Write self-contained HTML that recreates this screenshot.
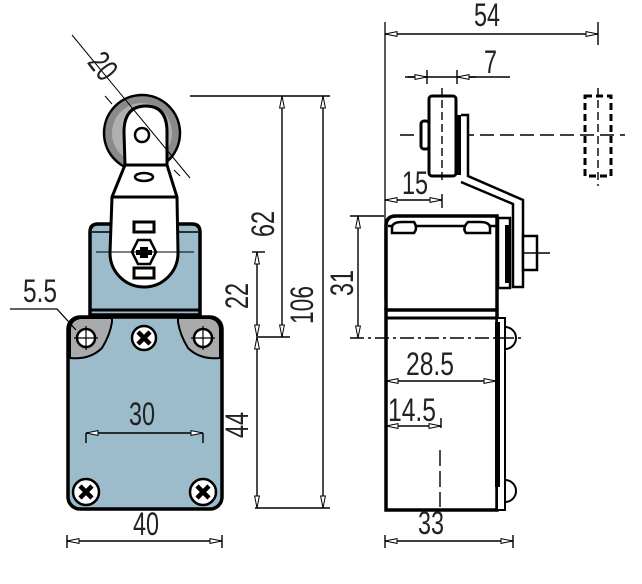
<!DOCTYPE html>
<html><head><meta charset="utf-8"><style>
html,body{margin:0;padding:0;background:#fff;}
svg{display:block;}
text{font-family:"Liberation Sans Narrow","Liberation Sans",sans-serif;font-size:32px;fill:#222;}
</style></head><body>
<svg width="642" height="584" viewBox="0 0 642 584" xmlns="http://www.w3.org/2000/svg">
<defs>
<marker id="a" viewBox="0 0 13 6" refX="13" refY="3" markerWidth="13" markerHeight="6" orient="auto-start-reverse" markerUnits="userSpaceOnUse">
<path d="M13,3 L1,0.6 L1,5.4 Z" fill="#fff" stroke="#000" stroke-width="1"/>
</marker>
</defs>
<g stroke="#000" fill="none" stroke-width="1.4">
<path d="M90,315 L90,232 Q90,224 98,224 L192,224 Q200,224 200,232 L200,315 Z" fill="#9dbccb" stroke-width="3.5"/>
<path d="M92,232 L198,232" stroke-width="1.5"/>
<line x1="91" y1="310" x2="199" y2="310" stroke-width="3"/>
<rect x="68" y="317" width="154" height="192" rx="12" fill="#9dbccb" stroke-width="3.5"/>
<path d="M70,358 Q90,360 102,348 Q110,335 112,322 L112,318 L80,318 Q70,320 70,330 Z" fill="#a8aaac" stroke-width="2"/>
<path d="M220,358 Q200,360 188,348 Q180,335 178,322 L178,318 L210,318 Q220,320 220,330 Z" fill="#a8aaac" stroke-width="2"/>
<circle cx="86" cy="338" r="9" fill="#fff" stroke-width="2.5"/>
<path d="M74,338 H98 M86,326 V350" stroke-width="1.2"/>
<circle cx="203" cy="338" r="9" fill="#fff" stroke-width="2.5"/>
<path d="M191,338 H215 M203,326 V350" stroke-width="1.2"/>
<circle cx="144" cy="338" r="12" fill="#fff" stroke-width="2.5"/>
<path d="M138,332 L150,344 M150,332 L138,344" stroke-width="4.5"/>
<circle cx="86" cy="492" r="13" fill="#fff" stroke-width="2.5"/>
<path d="M80,486 L92,498 M92,486 L80,498" stroke-width="4.5"/>
<circle cx="203" cy="492" r="13" fill="#fff" stroke-width="2.5"/>
<path d="M197,486 L209,498 M209,486 L197,498" stroke-width="4.5"/>
<circle cx="142" cy="133" r="38" fill="#8a8a8a" stroke-width="2.5"/>
<circle cx="142" cy="133" r="30" fill="#b0b0b0" stroke="none"/>
<path d="M125,165 L124,132 Q124,106 146,106 Q167,106 167,132 L167,165 L177,197 L178,253 A34,34 0 0 1 110,253 L112,197 Z" fill="#fff" stroke-width="3"/>
<line x1="125" y1="165" x2="167" y2="165" stroke-width="3"/>
<line x1="112" y1="197" x2="177" y2="197" stroke-width="3"/>
<ellipse cx="144" cy="177" rx="9" ry="4" stroke-width="2.5"/>
<circle cx="142" cy="135" r="7" fill="#fff" stroke-width="2.5"/>
<rect x="134" y="222" width="20" height="10" stroke-width="3"/>
<rect x="134" y="268" width="20" height="10" stroke-width="3"/>
<path d="M132,252 L138,240 L150,240 L156,252 L150,264 L138,264 Z" stroke-width="2.5"/>
<path d="M140,247 H148 V250 H152 V255 H148 V258 H140 V255 H136 V250 H140 Z" fill="#000" stroke="none"/>
<path d="M96,252 H194" stroke-width="1"/>
<line x1="72" y1="35" x2="190" y2="178" stroke-width="1"/>
<path d="M105,96 L112,104 M174,170 L180,176" stroke-width="1"/>
<path d="M10,309 L57,309 L76,330" stroke-width="1.3"/>
<line x1="86" y1="433" x2="203" y2="433" marker-start="url(#a)" marker-end="url(#a)"/>
<path d="M86,433 V443 M203,433 V443"/>
<line x1="67" y1="541" x2="222" y2="541" marker-start="url(#a)" marker-end="url(#a)"/>
<path d="M67,535 V548 M222,535 V548"/>
<line x1="190" y1="96" x2="330" y2="96"/>
<line x1="255" y1="508" x2="330" y2="508"/>
<line x1="258" y1="337" x2="290" y2="337"/>
<line x1="252" y1="252" x2="265" y2="252"/>
<line x1="282" y1="96" x2="282" y2="337" marker-start="url(#a)" marker-end="url(#a)"/>
<line x1="257" y1="252" x2="257" y2="337" marker-start="url(#a)" marker-end="url(#a)"/>
<line x1="257" y1="337" x2="257" y2="508" marker-start="url(#a)" marker-end="url(#a)"/>
<line x1="323" y1="96" x2="323" y2="508" marker-start="url(#a)" marker-end="url(#a)"/>

<line x1="385" y1="22" x2="385" y2="300" stroke-width="1.3"/>
<line x1="598" y1="22" x2="598" y2="45"/>
<line x1="385" y1="34" x2="598" y2="34" marker-start="url(#a)" marker-end="url(#a)"/>
<line x1="405" y1="77" x2="510" y2="77"/>
<path d="M427,70 V84 M457,70 V84"/>
<path d="M408,77 L427,77" marker-end="url(#a)"/>
<path d="M476,77 L457,77" marker-end="url(#a)"/>
<path d="M400,135 H625" stroke-dasharray="14,6"/>
<rect x="421" y="121" width="8" height="28" rx="3" fill="#fff" stroke-width="3"/>
<rect x="429" y="96" width="27" height="80" rx="3" fill="#fff" stroke-width="3"/>
<path d="M442,88 V184" stroke-dasharray="8,4"/>
<rect x="456" y="115" width="5" height="60" fill="#000" stroke="none"/>
<path d="M461,115 L468,115 L468,176 L523,200 L523,287 L513,287 L513,204 L461,182" fill="#fff" stroke-width="2.5"/>
<rect x="585" y="96" width="26" height="80" stroke-width="3" stroke-dasharray="7,4"/>
<path d="M598,88 V186" stroke-dasharray="8,4"/>
<line x1="442" y1="194" x2="442" y2="208"/>
<line x1="385" y1="200" x2="442" y2="200" marker-start="url(#a)" marker-end="url(#a)"/>
<path d="M386,310 L386,226 Q386,216 396,216 L497,216 L497,310" fill="#fff" stroke-width="3.5"/>
<line x1="388" y1="226" x2="496" y2="226" stroke-width="2.5"/>
<path d="M392,228 Q392,222 402,222 L414,222 Q418,228 414,233 L392,233 Z" fill="#fff" stroke-width="2.5"/>
<path d="M466,233 Q462,228 468,222 L480,222 Q490,222 490,228 L490,233 Z" fill="#fff" stroke-width="2.5"/>
<rect x="498" y="218" width="12" height="70" fill="#fff" stroke-width="2.5"/>
<rect x="505" y="225" width="4" height="58" fill="#000" stroke="none"/>
<rect x="523" y="236" width="14" height="34" fill="#fff" stroke-width="2.5"/>
<line x1="523" y1="253" x2="550" y2="253"/>
<rect x="386" y="310" width="111" height="200" fill="#fff" stroke-width="3.5"/>
<line x1="387" y1="318" x2="497" y2="318" stroke-width="3"/>
<rect x="497" y="318" width="8" height="192" fill="#fff" stroke-width="2"/>
<rect x="495" y="322" width="5" height="165" fill="#000" stroke="none"/>
<path d="M505,327 A11,11 0 0 1 505,349" stroke-width="2"/>
<path d="M505,480 A11,11 0 0 1 505,502" stroke-width="2"/>
<line x1="350" y1="216" x2="384" y2="216"/>
<line x1="358" y1="216" x2="358" y2="338" marker-start="url(#a)" marker-end="url(#a)"/>
<path d="M350,338 H525" stroke-dasharray="14,4,3,4"/>
<line x1="386" y1="381" x2="496" y2="381" marker-start="url(#a)" marker-end="url(#a)"/>
<line x1="441" y1="418" x2="441" y2="428"/>
<line x1="386" y1="426" x2="441" y2="426" marker-start="url(#a)" marker-end="url(#a)"/>
<path d="M440,450 V507" stroke-dasharray="16,5"/>
<line x1="385" y1="541" x2="513" y2="541" marker-start="url(#a)" marker-end="url(#a)"/>
<path d="M385,535 V548 M513,535 V548"/>
</g>
<g>
<text x="90" y="77" textLength="26" lengthAdjust="spacingAndGlyphs" transform="rotate(52 103 66)">20</text>
<text x="23" y="302" textLength="34" lengthAdjust="spacingAndGlyphs">5.5</text>
<text x="129" y="425" textLength="26" lengthAdjust="spacingAndGlyphs">30</text>
<text x="133" y="535" textLength="26" lengthAdjust="spacingAndGlyphs">40</text>
<text x="-13" y="0" textLength="26" lengthAdjust="spacingAndGlyphs" transform="translate(248,296) rotate(-90)">22</text>
<text x="-13" y="0" textLength="26" lengthAdjust="spacingAndGlyphs" transform="translate(274,224) rotate(-90)">62</text>
<text x="-19" y="0" textLength="38" lengthAdjust="spacingAndGlyphs" transform="translate(313,305) rotate(-90)">106</text>
<text x="-13" y="0" textLength="26" lengthAdjust="spacingAndGlyphs" transform="translate(248,425) rotate(-90)">44</text>
<text x="474" y="26" textLength="26" lengthAdjust="spacingAndGlyphs">54</text>
<text x="484" y="73" textLength="13" lengthAdjust="spacingAndGlyphs">7</text>
<text x="402" y="194" textLength="26" lengthAdjust="spacingAndGlyphs">15</text>
<text x="-13" y="0" textLength="26" lengthAdjust="spacingAndGlyphs" transform="translate(353,283) rotate(-90)">31</text>
<text x="406" y="375" textLength="48" lengthAdjust="spacingAndGlyphs">28.5</text>
<text x="388" y="421" textLength="48" lengthAdjust="spacingAndGlyphs">14.5</text>
<text x="418" y="534" textLength="26" lengthAdjust="spacingAndGlyphs">33</text>
</g>
</svg>
</body></html>
